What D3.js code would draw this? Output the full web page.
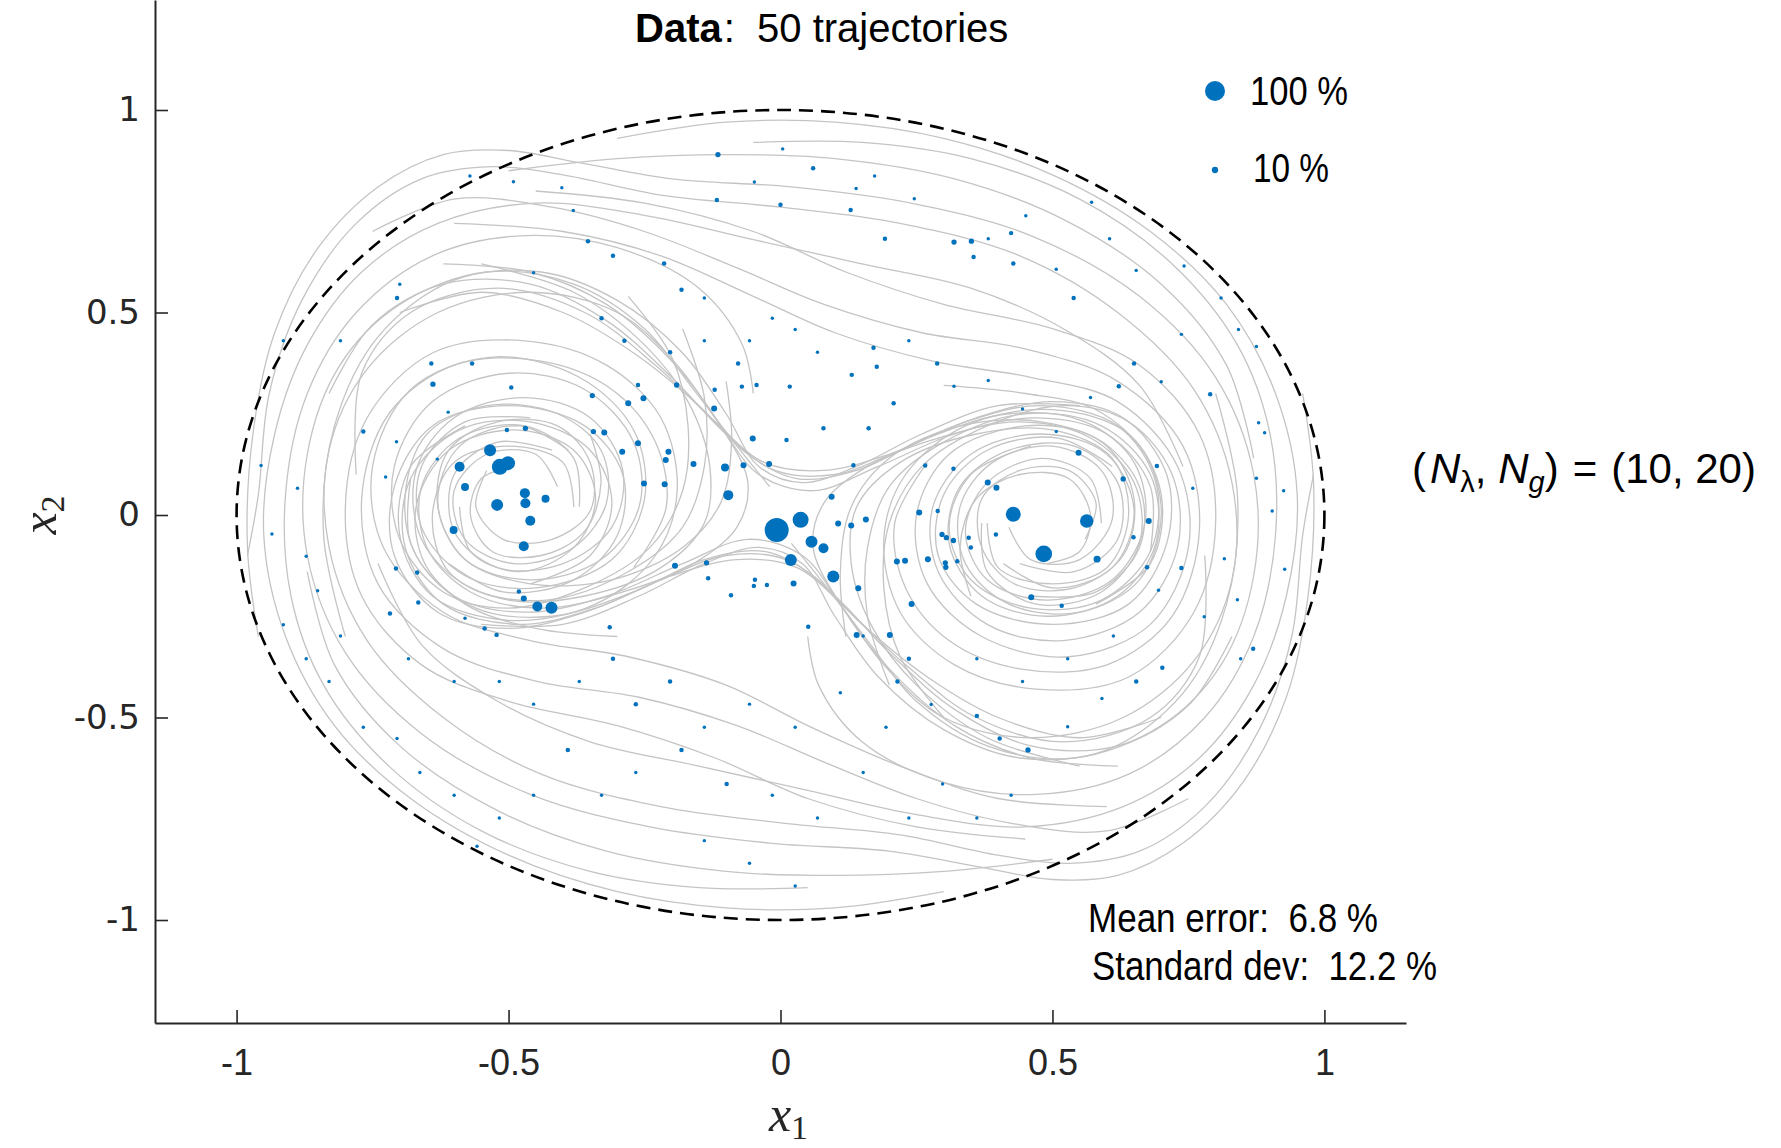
<!DOCTYPE html>
<html>
<head>
<meta charset="utf-8">
<script src="https://cdn.jsdelivr.net/npm/d3@7"></script>
<style>
  body { margin: 0; background: #ffffff; }
</style>
</head>
<body>
<div id="phase-plot"></div>
<script>
// values
var xTicks = [-1, -0.5, 0, 0.5, 1];
var xTickLabels = ["-1", "-0.5", "0", "0.5", "1"];
var yTicks = [-1, -0.5, 0, 0.5, 1];
var yTickLabels = ["-1", "-0.5", "0", "0.5", "1"];

// traced trajectories [x1, x2]
var trajectories = [
  [[0.12,-0.3],[0.11,-0.14],[0.13,0.02],[0.2,0.14],[0.33,0.22],[0.48,0.23],[0.6,0.17],[0.65,0.04],[0.63,-0.1],[0.54,-0.18],[0.43,-0.17],[0.37,-0.08],[0.37,0.04],[0.44,0.11],[0.53,0.11],[0.58,0.03],[0.56,-0.06]],
  [[0.2,-0.42],[0.16,-0.25],[0.16,-0.08],[0.2,0.07],[0.3,0.18],[0.45,0.25],[0.59,0.22],[0.68,0.1],[0.69,-0.07],[0.62,-0.2],[0.49,-0.25],[0.37,-0.2],[0.31,-0.07],[0.33,0.07],[0.42,0.16],[0.54,0.17],[0.62,0.08],[0.62,-0.06],[0.54,-0.14],[0.44,-0.12]],
  [[0.3,-0.5],[0.22,-0.35],[0.19,-0.18],[0.2,-0.02],[0.26,0.12],[0.38,0.22],[0.52,0.27],[0.64,0.23],[0.72,0.1],[0.73,-0.08],[0.66,-0.24],[0.52,-0.31],[0.38,-0.27],[0.29,-0.14],[0.28,0.02],[0.35,0.15],[0.48,0.2],[0.6,0.15],[0.65,0.01],[0.61,-0.13],[0.5,-0.18],[0.41,-0.12]],
  [[-0.6,0.72],[-0.4,0.7],[-0.22,0.64],[-0.05,0.54],[0.1,0.45],[0.28,0.38],[0.46,0.34],[0.62,0.28],[0.73,0.12],[0.75,-0.08],[0.68,-0.27],[0.53,-0.35],[0.37,-0.3],[0.27,-0.17],[0.25,0.0],[0.31,0.15],[0.45,0.22],[0.58,0.19],[0.66,0.07],[0.66,-0.08],[0.58,-0.19],[0.46,-0.2]],
  [[-0.45,0.8],[-0.25,0.77],[-0.05,0.7],[0.12,0.6],[0.3,0.52],[0.5,0.46],[0.66,0.37],[0.77,0.2],[0.8,-0.02],[0.76,-0.24],[0.64,-0.4],[0.47,-0.43],[0.32,-0.37],[0.22,-0.24],[0.19,-0.06],[0.23,0.1],[0.34,0.22],[0.5,0.26],[0.64,0.2],[0.7,0.05],[0.68,-0.12],[0.58,-0.22]],
  [[-0.7,0.5],[-0.55,0.55],[-0.4,0.5],[-0.27,0.4],[-0.15,0.27],[-0.06,0.15],[0.03,0.09],[0.14,0.11],[0.27,0.19],[0.42,0.25],[0.56,0.23],[0.65,0.13],[0.67,-0.02],[0.61,-0.16],[0.49,-0.21],[0.38,-0.16],[0.34,-0.04],[0.38,0.08],[0.48,0.14],[0.57,0.09],[0.59,-0.02]],
  [[-0.83,0.3],[-0.75,0.47],[-0.62,0.57],[-0.46,0.57],[-0.32,0.48],[-0.2,0.34],[-0.1,0.2],[-0.01,0.11],[0.1,0.1],[0.22,0.16],[0.36,0.24],[0.5,0.28],[0.63,0.24],[0.71,0.1],[0.71,-0.07],[0.64,-0.22],[0.5,-0.27],[0.36,-0.22],[0.29,-0.1],[0.3,0.05],[0.38,0.16],[0.51,0.19],[0.61,0.12]],
  [[0.55,-0.62],[0.38,-0.55],[0.25,-0.42],[0.17,-0.28],[0.13,-0.12],[0.14,0.02],[0.22,0.13],[0.36,0.2],[0.5,0.21],[0.61,0.14],[0.64,0.0],[0.6,-0.13],[0.5,-0.17],[0.4,-0.13],[0.38,-0.02]],
  [[0.3,0.32],[0.45,0.3],[0.58,0.26],[0.67,0.15],[0.7,0.0],[0.66,-0.16],[0.55,-0.24],[0.42,-0.22],[0.34,-0.12],[0.33,0.02],[0.39,0.13],[0.5,0.17],[0.59,0.11],[0.61,-0.01],[0.55,-0.11],[0.46,-0.11],[0.42,-0.03]],
  [[-0.78,0.1],[-0.77,0.35],[-0.68,0.5],[-0.52,0.56],[-0.36,0.5],[-0.23,0.37],[-0.12,0.23],[-0.03,0.13],[0.08,0.11],[0.2,0.15],[0.34,0.23],[0.48,0.27],[0.62,0.22],[0.69,0.08],[0.68,-0.09],[0.59,-0.21],[0.46,-0.23],[0.35,-0.16],[0.31,-0.03],[0.35,0.1],[0.46,0.17]],
  [[0.62,-0.62],[0.46,-0.6],[0.32,-0.52],[0.2,-0.38],[0.11,-0.22],[0.06,-0.08],[0.08,0.03],[0.16,0.12],[0.29,0.19],[0.44,0.23],[0.57,0.19],[0.65,0.08],[0.66,-0.07],[0.59,-0.19],[0.47,-0.22],[0.38,-0.14],[0.37,-0.02]],
  [[-0.1,0.33],[-0.09,0.18],[-0.11,0.03],[-0.18,-0.08],[-0.31,-0.16],[-0.46,-0.17],[-0.58,-0.11],[-0.63,0.02],[-0.61,0.16],[-0.52,0.23],[-0.41,0.22],[-0.35,0.13],[-0.35,0.01],[-0.42,-0.06],[-0.51,-0.06],[-0.56,0.02],[-0.54,0.11]],
  [[-0.18,0.46],[-0.14,0.29],[-0.14,0.12],[-0.18,-0.03],[-0.28,-0.14],[-0.43,-0.21],[-0.57,-0.18],[-0.66,-0.06],[-0.67,0.11],[-0.6,0.24],[-0.47,0.29],[-0.35,0.24],[-0.29,0.11],[-0.31,-0.03],[-0.4,-0.12],[-0.52,-0.13],[-0.6,-0.04],[-0.6,0.1],[-0.52,0.18],[-0.42,0.16]],
  [[-0.28,0.54],[-0.2,0.39],[-0.17,0.22],[-0.18,0.06],[-0.24,-0.08],[-0.36,-0.18],[-0.5,-0.23],[-0.62,-0.19],[-0.7,-0.06],[-0.71,0.12],[-0.64,0.28],[-0.5,0.35],[-0.36,0.31],[-0.27,0.18],[-0.26,0.02],[-0.33,-0.11],[-0.46,-0.16],[-0.58,-0.11],[-0.63,0.03],[-0.59,0.17],[-0.48,0.22],[-0.39,0.16]],
  [[0.6,-0.72],[0.4,-0.7],[0.22,-0.62],[0.05,-0.52],[-0.1,-0.42],[-0.28,-0.35],[-0.46,-0.31],[-0.62,-0.24],[-0.73,-0.08],[-0.75,0.12],[-0.68,0.31],[-0.53,0.39],[-0.37,0.34],[-0.27,0.21],[-0.25,0.04],[-0.31,-0.11],[-0.45,-0.18],[-0.58,-0.15],[-0.66,-0.03],[-0.66,0.12],[-0.58,0.23],[-0.46,0.24]],
  [[0.45,-0.8],[0.25,-0.77],[0.05,-0.7],[-0.12,-0.6],[-0.3,-0.52],[-0.5,-0.46],[-0.66,-0.37],[-0.77,-0.2],[-0.8,0.02],[-0.76,0.24],[-0.64,0.4],[-0.47,0.43],[-0.32,0.37],[-0.22,0.24],[-0.19,0.06],[-0.23,-0.1],[-0.34,-0.22],[-0.5,-0.26],[-0.64,-0.2],[-0.7,-0.05],[-0.68,0.12],[-0.58,0.22]],
  [[0.7,-0.5],[0.55,-0.55],[0.4,-0.5],[0.27,-0.4],[0.15,-0.27],[0.06,-0.15],[-0.03,-0.09],[-0.14,-0.11],[-0.27,-0.19],[-0.42,-0.25],[-0.56,-0.23],[-0.65,-0.13],[-0.67,0.02],[-0.61,0.16],[-0.49,0.21],[-0.38,0.16],[-0.34,0.04],[-0.38,-0.08],[-0.48,-0.14],[-0.57,-0.09],[-0.59,0.02]],
  [[0.83,-0.3],[0.75,-0.47],[0.62,-0.57],[0.46,-0.57],[0.32,-0.48],[0.2,-0.34],[0.1,-0.2],[0.01,-0.11],[-0.1,-0.1],[-0.22,-0.16],[-0.36,-0.24],[-0.5,-0.28],[-0.63,-0.24],[-0.71,-0.1],[-0.71,0.07],[-0.64,0.22],[-0.5,0.27],[-0.36,0.22],[-0.29,0.1],[-0.3,-0.05],[-0.38,-0.16],[-0.51,-0.19],[-0.61,-0.12]],
  [[-0.55,0.62],[-0.38,0.55],[-0.25,0.42],[-0.17,0.28],[-0.13,0.12],[-0.14,-0.02],[-0.22,-0.13],[-0.36,-0.2],[-0.5,-0.21],[-0.61,-0.14],[-0.64,0.0],[-0.6,0.13],[-0.5,0.17],[-0.4,0.13],[-0.38,0.02]],
  [[-0.3,-0.3],[-0.45,-0.28],[-0.58,-0.22],[-0.67,-0.1],[-0.69,0.05],[-0.65,0.2],[-0.54,0.27],[-0.41,0.25],[-0.33,0.16],[-0.32,0.03],[-0.38,-0.08],[-0.49,-0.12],[-0.58,-0.06],[-0.6,0.06],[-0.54,0.15],[-0.45,0.15],[-0.41,0.07]],
  [[0.78,-0.1],[0.77,-0.35],[0.68,-0.5],[0.52,-0.56],[0.36,-0.5],[0.23,-0.37],[0.12,-0.23],[0.03,-0.13],[-0.08,-0.11],[-0.2,-0.15],[-0.34,-0.23],[-0.48,-0.27],[-0.62,-0.22],[-0.69,-0.08],[-0.68,0.09],[-0.59,0.21],[-0.46,0.23],[-0.35,0.16],[-0.31,0.03],[-0.35,-0.1],[-0.46,-0.17]],
  [[-0.62,0.62],[-0.46,0.6],[-0.32,0.52],[-0.2,0.38],[-0.11,0.22],[-0.06,0.08],[-0.08,-0.03],[-0.16,-0.12],[-0.29,-0.19],[-0.44,-0.23],[-0.57,-0.19],[-0.65,-0.08],[-0.66,0.07],[-0.59,0.19],[-0.47,0.22],[-0.38,0.14],[-0.37,0.02]],
  [[-0.96,-0.3],[-0.98,-0.08],[-0.97,0.2],[-0.93,0.45],[-0.85,0.66],[-0.74,0.81],[-0.62,0.89],[-0.5,0.9],[-0.37,0.87],[-0.2,0.83],[0.02,0.81],[0.24,0.77],[0.46,0.69],[0.66,0.54],[0.8,0.34],[0.87,0.1],[0.87,-0.15],[0.81,-0.37],[0.7,-0.52],[0.54,-0.6],[0.38,-0.57],[0.25,-0.46],[0.16,-0.31],[0.08,-0.17],[0.02,-0.07]],
  [[-0.98,-0.1],[-0.96,0.05],[-0.94,0.3],[-0.88,0.53],[-0.78,0.72],[-0.66,0.83],[-0.53,0.86],[-0.4,0.84],[-0.22,0.79],[0.0,0.76],[0.22,0.72],[0.44,0.64],[0.62,0.5],[0.76,0.31],[0.83,0.08],[0.83,-0.16],[0.76,-0.36],[0.63,-0.5],[0.46,-0.55],[0.3,-0.5],[0.19,-0.37],[0.11,-0.22],[0.04,-0.1],[-0.06,-0.06],[-0.18,-0.12],[-0.32,-0.2],[-0.47,-0.24],[-0.6,-0.2],[-0.68,-0.07],[-0.68,0.09]],
  [[0.96,0.3],[0.98,0.08],[0.97,-0.2],[0.93,-0.45],[0.85,-0.66],[0.74,-0.81],[0.62,-0.89],[0.5,-0.9],[0.37,-0.87],[0.2,-0.83],[-0.02,-0.81],[-0.24,-0.77],[-0.46,-0.69],[-0.66,-0.54],[-0.8,-0.34],[-0.87,-0.1],[-0.87,0.15],[-0.81,0.37],[-0.7,0.52],[-0.54,0.6],[-0.38,0.57],[-0.25,0.46],[-0.16,0.31],[-0.08,0.17],[-0.02,0.07]],
  [[0.98,0.1],[0.96,-0.05],[0.94,-0.3],[0.88,-0.53],[0.78,-0.72],[0.66,-0.83],[0.53,-0.86],[0.4,-0.84],[0.22,-0.79],[0.0,-0.76],[-0.22,-0.72],[-0.44,-0.64],[-0.62,-0.5],[-0.76,-0.31],[-0.83,-0.08],[-0.83,0.16],[-0.76,0.36],[-0.63,0.5],[-0.46,0.55],[-0.3,0.5],[-0.19,0.37],[-0.11,0.22],[-0.04,0.1],[0.06,0.06],[0.18,0.12],[0.32,0.2],[0.47,0.24],[0.6,0.2],[0.68,0.07],[0.68,-0.09]],
  [[-0.3,0.93],[-0.1,0.97],[0.1,0.97],[0.3,0.93],[0.5,0.84],[0.68,0.7],[0.82,0.52],[0.91,0.3],[0.95,0.05],[0.93,-0.2],[0.87,-0.42],[0.77,-0.6],[0.63,-0.72],[0.45,-0.77],[0.25,-0.74],[0.05,-0.68],[-0.15,-0.62],[-0.35,-0.56],[-0.52,-0.46],[-0.66,-0.32],[-0.74,-0.12]],
  [[-0.05,0.92],[0.15,0.92],[0.35,0.88],[0.55,0.78],[0.72,0.62],[0.84,0.42],[0.9,0.2],[0.91,-0.05],[0.87,-0.3],[0.78,-0.5],[0.64,-0.64],[0.47,-0.69],[0.3,-0.66],[0.15,-0.56],[0.07,-0.42],[0.05,-0.3]],
  [[0.3,-0.93],[0.1,-0.97],[-0.1,-0.97],[-0.3,-0.93],[-0.5,-0.84],[-0.68,-0.7],[-0.82,-0.52],[-0.91,-0.3],[-0.95,-0.05],[-0.93,0.2],[-0.87,0.42],[-0.77,0.6],[-0.63,0.72],[-0.45,0.77],[-0.25,0.74],[-0.05,0.68],[0.15,0.62],[0.35,0.56],[0.52,0.46],[0.66,0.32],[0.74,0.12]],
  [[0.05,-0.92],[-0.15,-0.92],[-0.35,-0.88],[-0.55,-0.78],[-0.72,-0.62],[-0.84,-0.42],[-0.9,-0.2],[-0.91,0.05],[-0.87,0.3],[-0.78,0.5],[-0.64,0.64],[-0.47,0.69],[-0.3,0.66],[-0.15,0.56],[-0.07,0.42],[-0.05,0.3]],
  [[-0.75,0.7],[-0.6,0.78],[-0.42,0.76],[-0.25,0.7],[-0.08,0.61],[0.08,0.52],[0.26,0.45],[0.45,0.41],[0.62,0.33],[0.74,0.17],[0.77,-0.04],[0.72,-0.25],[0.6,-0.37],[0.44,-0.38],[0.31,-0.31],[0.23,-0.18],[0.21,-0.02],[0.27,0.13]],
  [[0.75,-0.7],[0.6,-0.78],[0.42,-0.76],[0.25,-0.7],[0.08,-0.61],[-0.08,-0.52],[-0.26,-0.45],[-0.45,-0.41],[-0.62,-0.33],[-0.74,-0.17],[-0.77,0.04],[-0.72,0.25],[-0.6,0.37],[-0.44,0.38],[-0.31,0.31],[-0.23,0.18],[-0.21,0.02],[-0.27,-0.13]],
  [[-0.8,-0.3],[-0.84,-0.05],[-0.82,0.22],[-0.74,0.44],[-0.6,0.58],[-0.44,0.6],[-0.3,0.53],[-0.18,0.4],[-0.1,0.25],[-0.04,0.12],[0.04,0.08],[0.14,0.12],[0.26,0.2],[0.4,0.27],[0.55,0.27]],
  [[0.8,0.3],[0.84,0.05],[0.82,-0.22],[0.74,-0.44],[0.6,-0.58],[0.44,-0.6],[0.3,-0.53],[0.18,-0.4],[0.1,-0.25],[0.04,-0.12],[-0.04,-0.08],[-0.14,-0.12],[-0.26,-0.2],[-0.4,-0.27],[-0.55,-0.27]],
  [[-0.35,0.2],[-0.33,0.08],[-0.36,-0.04],[-0.44,-0.1],[-0.53,-0.09],[-0.57,0.0],[-0.55,0.09],[-0.49,0.12]],
  [[0.35,-0.2],[0.33,-0.08],[0.36,0.04],[0.44,0.1],[0.53,0.09],[0.57,0.0],[0.55,-0.09],[0.49,-0.12]],
  [[-0.5,0.85],[-0.3,0.88],[-0.1,0.89],[0.1,0.88],[0.32,0.83],[0.52,0.73],[0.7,0.57],[0.82,0.37],[0.87,0.14]],
  [[0.5,-0.85],[0.3,-0.88],[0.1,-0.89],[-0.1,-0.88],[-0.32,-0.83],[-0.52,-0.73],[-0.7,-0.57],[-0.82,-0.37],[-0.87,-0.14]]
];

// sample points [x1, x2, relative error %]
var samples = [
  [-0.534,0.160,36],[-0.516,0.119,64],[-0.501,0.128,49],[-0.590,0.119,25],[-0.580,0.069,16],[-0.521,0.025,36],
  [-0.470,0.054,25],[-0.469,0.029,25],[-0.432,0.040,16],[-0.460,-0.014,25],[-0.472,-0.077,25],[-0.601,-0.037,16],
  [-0.447,-0.226,25],[-0.421,-0.229,36],[-0.007,-0.037,144],[0.037,-0.012,64],[0.057,-0.066,36],[0.079,-0.082,25],
  [0.019,-0.111,36],[0.097,-0.152,36],[-0.096,0.049,25],[-0.102,0.117,16],[-0.021,0.126,9],[-0.068,0.123,9],
  [-0.160,0.126,9],[-0.206,0.156,9],[-0.211,0.136,9],[-0.251,0.078,9],[-0.213,0.076,9],[-0.262,0.177,9],
  [-0.291,0.156,9],[-0.280,0.276,9],[-0.252,0.288,9],[-0.324,0.204,9],[-0.344,0.206,7],[-0.346,0.295,7],
  [-0.194,-0.125,9],[-0.136,-0.118,7],[-0.133,-0.156,5],[-0.047,-0.160,5],[-0.049,-0.175,5],[-0.025,-0.173,5],
  [0.024,-0.169,9],[0.051,-0.276,5],[0.143,-0.181,9],[0.094,0.045,9],[0.106,-0.021,9],[0.130,-0.026,9],
  [0.157,-0.011,9],[0.134,0.123,5],[0.079,0.214,5],[0.162,0.214,5],[0.011,0.185,5],[-0.051,0.189,9],
  [-0.122,0.263,9],[0.017,0.317,5],[-0.191,0.321,7],[-0.495,0.315,5],[-0.639,0.323,7],[-0.611,0.254,3],
  [-0.503,0.210,5],[-0.469,0.214,7],[-0.706,0.181,3],[-0.631,0.138,3],[-0.707,-0.132,5],[-0.668,-0.142,5],
  [-0.666,-0.216,5],[-0.718,-0.243,5],[-0.472,-0.206,9],[-0.481,-0.189,5],[-0.544,-0.280,5],[-0.522,-0.296,5],
  [-0.580,-0.255,3],[-0.314,-0.277,5],[-0.091,-0.198,5],[0.140,-0.296,9],[0.201,-0.296,9],[0.214,-0.115,9],
  [0.208,0.276,5],[-0.044,0.321,5],[-0.121,0.309,5],[-0.262,0.321,5],[-0.071,0.317,5],
  [0.428,0.002,56],[0.484,-0.096,69],[0.563,-0.015,45],[0.582,-0.109,12],[0.381,0.080,9],[0.397,0.067,9],
  [0.255,0.006,9],[0.289,0.010,5],[0.318,0.114,5],[0.266,0.122,5],[0.548,0.154,9],[0.630,0.089,7],
  [0.677,-0.015,9],[0.297,-0.048,7],[0.305,-0.056,7],[0.318,-0.063,7],[0.346,-0.056,5],[0.350,-0.080,5],
  [0.396,-0.048,5],[0.229,-0.113,9],[0.271,-0.109,9],[0.303,-0.118,7],[0.304,-0.129,7],[0.325,-0.114,5],
  [0.461,-0.203,9],[0.517,-0.224,5],[0.241,-0.220,9],[0.649,-0.055,5],[0.674,-0.129,5],[0.692,0.121,5],
  [-0.115,0.890,7],[-0.117,0.778,5],[-0.048,0.822,3],[0.0,0.766,5],[0.004,0.904,3],[0.060,0.856,5],
  [0.129,0.753,5],[0.139,0.806,3],[0.173,0.837,3],[0.192,0.682,5],[0.246,0.781,3],[0.319,0.674,7],
  [0.351,0.676,7],[0.355,0.637,5],[0.382,0.682,3],[0.424,0.696,5],[0.428,0.621,5],[0.451,0.739,3],
  [0.507,0.607,3],[0.539,0.536,5],[0.572,0.772,3],[0.605,0.682,3],[0.654,0.604,3],[0.742,0.615,3],
  [0.810,0.536,3],[0.842,0.458,3],[0.650,0.374,5],[0.737,0.446,3],[0.622,0.318,5],[0.700,0.329,3],
  [0.790,0.298,5],[0.875,0.416,3],[0.879,0.228,3],[0.890,0.203,3],[0.875,0.091,3],[0.925,0.060,3],
  [0.904,0.010,3],[0.927,-0.134,3],[0.840,-0.209,3],[0.869,-0.330,5],[0.846,-0.355,3],[0.779,-0.251,3],
  [0.816,-0.108,3],[0.758,0.066,3],
  [0.702,-0.377,5],[0.654,-0.411,5],[0.591,-0.453,3],[0.528,-0.523,3],[0.455,-0.580,7],[0.403,-0.552,5],
  [0.361,-0.496,5],[0.424,-0.692,3],[0.361,-0.748,3],[0.298,-0.664,3],[0.236,-0.355,5],[0.215,-0.411,5],
  [0.152,-0.299,3],[0.194,-0.524,3],[0.277,-0.468,3],[0.361,-0.355,3],[0.445,-0.411,3],[0.528,-0.355,3],
  [0.612,-0.299,3],[0.695,-0.186,3],[0.737,-0.131,5],
  [0.027,-0.916,3],[-0.057,-0.860,3],[-0.140,-0.804,3],[0.068,-0.748,3],[-0.015,-0.692,3],[-0.099,-0.664,5],
  [-0.182,-0.580,5],[-0.266,-0.636,3],[-0.329,-0.692,3],[-0.391,-0.580,5],[-0.454,-0.692,3],[-0.517,-0.748,3],
  [-0.558,-0.818,3],[-0.600,-0.692,3],[-0.663,-0.636,3],[-0.705,-0.552,3],[-0.767,-0.524,3],[-0.830,-0.411,3],
  [-0.872,-0.355,3],[-0.914,-0.271,3],[-0.266,-0.467,5],[-0.203,-0.411,5],[-0.140,-0.524,3],[-0.057,-0.467,3],
  [0.027,-0.524,3],[0.110,-0.439,3],[0.152,-0.636,3],[0.236,-0.748,3],[-0.308,-0.355,5],[-0.370,-0.411,3],
  [-0.454,-0.467,3],[-0.517,-0.411,3],[-0.600,-0.411,3],[-0.684,-0.355,3],
  [-0.955,0.122,3],[-0.888,0.066,3],[-0.872,-0.102,3],[-0.935,-0.047,3],[-0.809,0.430,3],[-0.767,0.206,5],
  [-0.726,0.094,3],[-0.705,0.536,5],[-0.700,0.570,3],[-0.642,0.374,5],[-0.567,0.374,5],[-0.914,0.430,3],
  [-0.851,-0.187,3],[-0.809,-0.299,3],
  [-0.571,0.837,3],[-0.491,0.823,3],[-0.402,0.808,3],[-0.381,0.752,3],[-0.354,0.676,5],[-0.308,0.640,5],
  [-0.214,0.621,5],[-0.182,0.556,5],[-0.140,0.536,3],[-0.454,0.598,3],[-0.329,0.486,5],[-0.287,0.430,5],
  [-0.203,0.402,5],[-0.140,0.430,3],[-0.078,0.374,5],[-0.057,0.430,3],[-0.015,0.486,3],[0.027,0.458,3],
  [0.068,0.402,3],[0.131,0.346,5],[0.171,0.413,5],[0.177,0.366,5],[0.236,0.430,3],[0.288,0.374,5],
  [0.319,0.318,3],[0.382,0.332,3],[0.445,0.262,3],[0.507,0.206,3],[0.570,0.290,3]
];

var legendValues = [100, 10];
var legendLabels = ["100 %", "10 %"];
var titleBold = "Data";
var titleRest = ":  50 trajectories";
var statsLines = ["Mean error:  6.8 %", "Standard dev:  12.2 %"];

var width = 1781, height = 1148;

var svg = d3.select("#phase-plot")
  .append("svg")
    .attr("width", width)
    .attr("height", height)
    .style("display", "block");

var x = d3.scaleLinear().domain([-1.15, 1.15]).range([155, 1406]);
var y = d3.scaleLinear().domain([-1.2543, 1.2716]).range([1023, 0]);
var r = d3.scaleSqrt().domain([0, 100]).range([0, 10]);

// trajectories
var line = d3.line()
  .x(function (d) { return x(d[0]); })
  .y(function (d) { return y(d[1]); })
  .curve(d3.curveCatmullRom.alpha(0.5));

svg.append("g")
  .selectAll("path")
  .data(trajectories)
  .enter().append("path")
    .attr("fill", "none")
    .attr("stroke", "#c4c4c4")
    .attr("stroke-width", 1.3)
    .attr("d", line);

// unit circle boundary
svg.append("ellipse")
  .attr("cx", x(0))
  .attr("cy", y(0))
  .attr("rx", x(1) - x(0))
  .attr("ry", y(0) - y(1))
  .attr("fill", "none")
  .attr("stroke", "#000")
  .attr("stroke-width", 2.6)
  .attr("stroke-dasharray", "14,8");

// error dots
svg.append("g")
  .selectAll("circle")
  .data(samples)
  .enter().append("circle")
    .attr("cx", function (d) { return x(d[0]); })
    .attr("cy", function (d) { return y(d[1]); })
    .attr("r", function (d) { return r(d[2]); })
    .attr("fill", "#0072BD");

// axes
var xAxis = svg.append("g")
  .attr("transform", "translate(0," + y.range()[0] + ")")
  .call(d3.axisBottom(x)
    .tickValues(xTicks)
    .tickFormat(function (d, i) { return xTickLabels[i]; })
    .tickSizeInner(-13)
    .tickSizeOuter(0)
    .tickPadding(26));

var yAxis = svg.append("g")
  .attr("transform", "translate(" + x.range()[0] + ",0)")
  .call(d3.axisLeft(y)
    .tickValues(yTicks)
    .tickFormat(function (d, i) { return yTickLabels[i]; })
    .tickSizeInner(-13)
    .tickSizeOuter(0)
    .tickPadding(15));

[xAxis, yAxis].forEach(function (ax) {
  ax.select(".domain").attr("stroke", "#262626").attr("stroke-width", 2);
  ax.selectAll(".tick line").attr("stroke", "#262626").attr("stroke-width", 1.6);
  ax.selectAll(".tick text").attr("fill", "#262626");
});
xAxis.selectAll(".tick text")
  .attr("font-family", "Liberation Sans, Arial, sans-serif")
  .attr("font-size", 36);
yAxis.selectAll(".tick text")
  .attr("font-family", "DejaVu Sans, sans-serif")
  .attr("font-size", 34);

// axis labels
var xLabel = svg.append("text")
  .attr("x", x(0) + 8)
  .attr("y", 1131)
  .attr("text-anchor", "middle")
  .attr("font-family", "Liberation Serif, serif")
  .attr("font-size", 50)
  .attr("fill", "#262626");
xLabel.append("tspan").attr("font-style", "italic").text("x");
xLabel.append("tspan").attr("font-size", 34).attr("dy", 8).text("1");

var yLabel = svg.append("text")
  .attr("transform", "translate(56," + y(0) + ") rotate(-90)")
  .attr("text-anchor", "middle")
  .attr("font-family", "Liberation Serif, serif")
  .attr("font-size", 50)
  .attr("fill", "#262626");
yLabel.append("tspan").attr("font-style", "italic").text("x");
yLabel.append("tspan").attr("font-size", 34).attr("dy", 8).text("2");

// title
var title = svg.append("text")
  .attr("x", 635)
  .attr("y", 42)
  .attr("font-family", "Liberation Sans, Arial, sans-serif")
  .attr("font-size", 40)
  .attr("fill", "#000")
  .style("white-space", "pre");
title.append("tspan").attr("font-weight", "bold").text(titleBold);
title.append("tspan").attr("dx", 2).text(titleRest);

// legend
var legendY = [91, 170];
var legendTextY = [105, 182];
var legendTextX = [1250, 1253];
var legendTextW = [98, 76];
var legend = svg.append("g");
legend.selectAll("circle")
  .data(legendValues)
  .enter().append("circle")
    .attr("cx", 1215)
    .attr("cy", function (d, i) { return legendY[i]; })
    .attr("r", function (d) { return r(d); })
    .attr("fill", "#0072BD");
legend.selectAll("text")
  .data(legendLabels)
  .enter().append("text")
    .attr("x", function (d, i) { return legendTextX[i]; })
    .attr("y", function (d, i) { return legendTextY[i]; })
    .attr("textLength", function (d, i) { return legendTextW[i]; })
    .attr("lengthAdjust", "spacingAndGlyphs")
    .attr("font-family", "Liberation Sans, Arial, sans-serif")
    .attr("font-size", 41)
    .attr("fill", "#000")
    .text(function (d) { return d; });

// parameter annotation
var ann = svg.append("text")
  .attr("x", 1412)
  .attr("y", 483)
  .attr("font-family", "Liberation Sans, Arial, sans-serif")
  .attr("font-size", 42)
  .attr("fill", "#000")
  .style("white-space", "pre");
ann.append("tspan").text("(");
ann.append("tspan").attr("dx", 4).attr("font-style", "italic").text("N");
ann.append("tspan").attr("font-size", 29).attr("dy", 9).text("λ");
ann.append("tspan").attr("dy", -9).text(", ");
ann.append("tspan").attr("font-style", "italic").text("N");
ann.append("tspan").attr("font-size", 29).attr("font-style", "italic").attr("dy", 9).text("g");
ann.append("tspan").attr("dy", -9).text(")");
ann.append("tspan").attr("dx", 14).text("=");
ann.append("tspan").attr("dx", 14).text("(10, 20)");

// error stats
var statsX = [1088, 1092];
var statsY = [932, 980];
var statsW = [290, 345];
svg.append("g")
  .selectAll("text")
  .data(statsLines)
  .enter().append("text")
    .attr("x", function (d, i) { return statsX[i]; })
    .attr("y", function (d, i) { return statsY[i]; })
    .attr("textLength", function (d, i) { return statsW[i]; })
    .attr("lengthAdjust", "spacingAndGlyphs")
    .attr("font-family", "Liberation Sans, Arial, sans-serif")
    .attr("font-size", 41)
    .attr("fill", "#000")
    .style("white-space", "pre")
    .text(function (d) { return d; });
</script>
</body>
</html>
